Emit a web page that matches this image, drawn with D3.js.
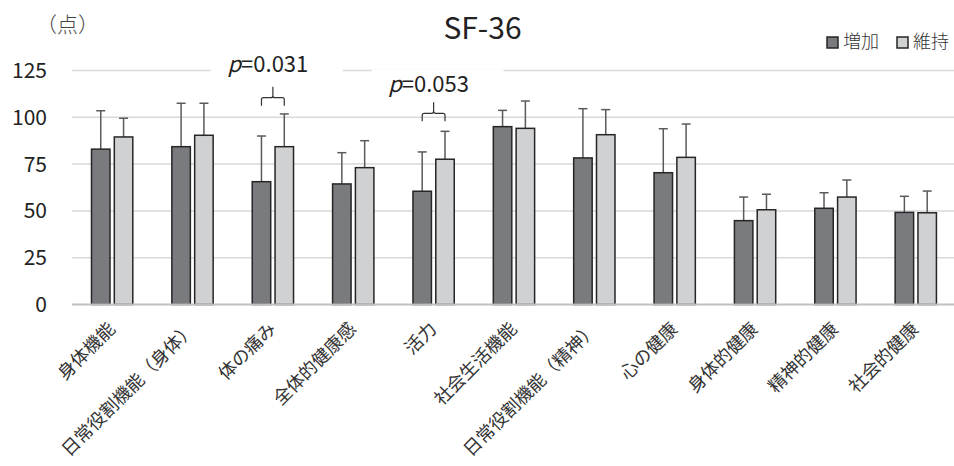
<!DOCTYPE html>
<html>
<head>
<meta charset="utf-8">
<script src="https://cdn.jsdelivr.net/npm/d3@7"></script>
<style>
  body { margin: 0; background: #fff; }
  svg { display: block; font-family: "Noto Sans CJK JP", "Noto Sans", sans-serif; font-weight: 400; }
  .light { font-weight: 300; }
</style>
</head>
<body>
<div id="chart"></div>
<script>
var categories = ['身体機能', '日常役割機能（身体）', '体の痛み', '全体的健康感', '活力',
        '社会生活機能', '日常役割機能（精神）', '心の健康', '身体的健康', '精神的健康', '社会的健康'],
    seriesNames = ['増加', '維持'],
    increaseMean = [83, 84.3, 65.6, 64.4, 60.5, 95, 78.3, 70.4, 44.8, 51.4, 49.2],
    increaseSd = [20.5, 23.2, 24.4, 16.7, 21, 8.7, 26.3, 23.5, 12.6, 8.3, 8.6],
    maintainMean = [89.5, 90.4, 84.3, 73.1, 77.6, 94.1, 90.7, 78.6, 50.6, 57.4, 49],
    maintainSd = [10, 17.1, 17.5, 14.4, 14.9, 14.6, 13.4, 17.8, 8.3, 9.1, 11.6],
    yTicks = [0, 25, 50, 75, 100, 125],
    pIndex = [2, 4],
    pText = ['0.031', '0.053'],
    pLevel = [110.5, 102.1],
    pTextLevel = [124.5, 113.8];

var width = 954,
    height = 466,
    colors = ['#7a7b7f', '#d0d1d3'],
    svg = d3.select('#chart').append('svg')
        .attr('width', width)
        .attr('height', height);

var x0 = d3.scaleBand().domain(d3.range(categories.length)).range([72, 956]).padding(0),
    x1 = d3.scaleBand().domain([0, 1]).range([19.5, 60.8]).paddingInner(0.19),
    y = d3.scaleLinear().domain([0, 125]).range([304.5, 70.5]);

var data = categories.map(function (c, i) {
    return [
        { i: i, s: 0, mean: increaseMean[i], sd: increaseSd[i] },
        { i: i, s: 1, mean: maintainMean[i], sd: maintainSd[i] }
    ];
});

// gridlines
svg.append('g').selectAll('line')
    .data(yTicks.filter(function (d) { return d > 0; }))
    .enter().append('line')
    .attr('x1', 72).attr('x2', 954)
    .attr('y1', function (d) { return y(d); })
    .attr('y2', function (d) { return y(d); })
    .style('stroke', '#d9d9d9')
    .style('stroke-width', 1.5);

// y labels
svg.append('g').selectAll('text')
    .data(yTicks)
    .enter().append('text')
    .attr('x', 47)
    .attr('y', function (d) { return y(d); })
    .attr('dy', '0.36em')
    .attr('text-anchor', 'end')
    .style('font-size', '21px')
    .style('fill', '#222')
    .text(function (d) { return d; });

// bars
var groups = svg.append('g').selectAll('g')
    .data(data)
    .enter().append('g')
    .attr('transform', function (d, i) { return 'translate(' + x0(i) + ',0)'; });

groups.selectAll('line.err')
    .data(function (d) { return d; })
    .enter().append('line')
    .attr('class', 'err')
    .attr('x1', function (d) { return x1(d.s) + x1.bandwidth() / 2; })
    .attr('x2', function (d) { return x1(d.s) + x1.bandwidth() / 2; })
    .attr('y1', function (d) { return y(d.mean); })
    .attr('y2', function (d) { return y(d.mean + d.sd); })
    .style('stroke', '#5a5a5a')
    .style('stroke-width', 1.5);

groups.selectAll('line.cap')
    .data(function (d) { return d; })
    .enter().append('line')
    .attr('class', 'cap')
    .attr('x1', function (d) { return x1(d.s) + x1.bandwidth() / 2 - 4.5; })
    .attr('x2', function (d) { return x1(d.s) + x1.bandwidth() / 2 + 4.5; })
    .attr('y1', function (d) { return y(d.mean + d.sd); })
    .attr('y2', function (d) { return y(d.mean + d.sd); })
    .style('stroke', '#5a5a5a')
    .style('stroke-width', 1.5);

groups.selectAll('rect')
    .data(function (d) { return d; })
    .enter().append('rect')
    .attr('x', function (d) { return x1(d.s); })
    .attr('width', x1.bandwidth())
    .attr('y', function (d) { return y(d.mean); })
    .attr('height', function (d) { return y(0) - y(d.mean); })
    .style('fill', function (d) { return colors[d.s]; })
    .style('stroke', '#262626')
    .style('stroke-width', 1.5);

// baseline
svg.append('line')
    .attr('x1', 72).attr('x2', 954)
    .attr('y1', y(0)).attr('y2', y(0))
    .style('stroke', '#c0c0c0')
    .style('stroke-width', 2);

// x labels
svg.append('g').selectAll('text')
    .data(categories)
    .enter().append('text')
    .attr('transform', function (d, i) {
        return 'translate(' + (x0(i) + x0.bandwidth() / 2 + 4) + ',' + 330 + ') rotate(-45)';
    })
    .attr('text-anchor', 'end')
    .style('font-size', '18px')
    .style('fill', '#333')
    .text(function (d) { return d; });

// p-value annotations
pIndex.forEach(function (ci, k) {
    var xa = x0(ci) + x1(0) + x1.bandwidth() / 2,
        xb = x0(ci) + x1(1) + x1.bandwidth() / 2,
        xm = (xa + xb) / 2,
        yh = y(pLevel[k]),
        yt = y(pTextLevel[k]);

    svg.append('rect')
        .attr('x', xm + 4 - 66)
        .attr('y', yt - 22)
        .attr('width', 132)
        .attr('height', 30)
        .style('fill', '#fff');

    var t = svg.append('text')
        .attr('x', xm - 5)
        .attr('y', yt + 1)
        .attr('text-anchor', 'middle')
        .style('font-size', '22px')
        .style('fill', '#222');
    t.append('tspan').style('font-style', 'italic').text('p');
    t.append('tspan').text('=' + pText[k]);

    svg.append('path')
        .attr('d', 'M' + xa + ',' + (yh + 8) + 'L' + xa + ',' + (yh + 2) +
            'Q' + xa + ',' + yh + ' ' + (xa + 2) + ',' + yh +
            'L' + (xm - 2) + ',' + yh + 'Q' + xm + ',' + yh + ' ' + xm + ',' + (yh - 2) +
            'L' + xm + ',' + (yh - 11) +
            'M' + xm + ',' + (yh - 2) + 'Q' + xm + ',' + yh + ' ' + (xm + 2) + ',' + yh +
            'L' + (xb - 2) + ',' + yh + 'Q' + xb + ',' + yh + ' ' + xb + ',' + (yh + 2) +
            'L' + xb + ',' + (yh + 8))
        .style('fill', 'none')
        .style('stroke', '#333')
        .style('stroke-width', 1.2);
});

// title and unit
svg.append('text')
    .attr('x', 482.5).attr('y', 39)
    .attr('text-anchor', 'middle')
    .style('font-size', '30px')
    .style('fill', '#222')
    .text('SF-36');

svg.append('text')
    .attr('class', 'light')
    .attr('x', 36).attr('y', 32)
    .style('font-size', '21px')
    .style('fill', '#444')
    .text('（点）');

// legend
var legend = svg.append('g').selectAll('g')
    .data(seriesNames)
    .enter().append('g')
    .attr('transform', function (d, i) { return 'translate(' + (827 + i * 70) + ',37)'; });
legend.append('rect')
    .attr('width', 11).attr('height', 11)
    .style('fill', function (d, i) { return colors[i]; })
    .style('stroke', '#262626')
    .style('stroke-width', 1.5);
legend.append('text')
    .attr('class', 'light')
    .attr('x', 16).attr('y', 11)
    .style('font-size', '18px')
    .style('fill', '#333')
    .text(function (d) { return d; });
</script>
</body>
</html>
